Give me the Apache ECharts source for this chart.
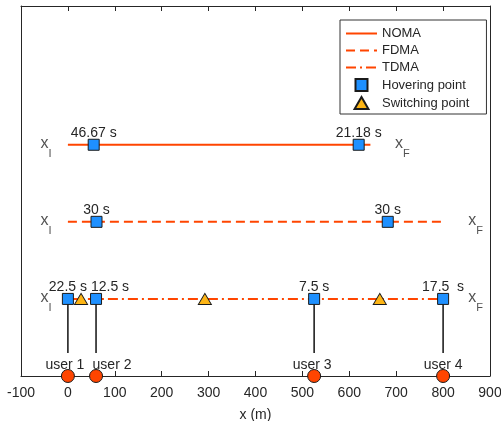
<!DOCTYPE html>
<html><head><meta charset="utf-8">
<script src="https://cdn.jsdelivr.net/npm/echarts@6/dist/echarts.min.js"></script>
<style>html,body{margin:0;padding:0;background:#fff}#c{width:501px;height:421px}</style>
</head><body><div id="c"></div>
<script>
// ---- data ----
const xTickMin = -100, xTickMax = 900, xTickStep = 100;
const schemes = ['NOMA', 'FDMA', 'TDMA'];
const schemeLevel = [3, 2, 1];
const schemeStart = [0, 0, 0];
const schemeEnd = [645, 800, 800];
const nomaHoverX = [55, 620];
const nomaHoverTime = ['46.67 s', '21.18 s'];
const fdmaHoverX = [61, 682];
const fdmaHoverTime = ['30 s', '30 s'];
const tdmaHoverX = [0, 60, 525, 800];
const tdmaHoverTime = ['22.5 s', '12.5 s', '7.5 s', '17.5  s'];
const tdmaSwitchX = [28, 292, 665];
const userX = [0, 60, 525, 800];
const userNames = ['user 1', 'user 2', 'user 3', 'user 4'];
const userLevel = 0;
const userLinkBottom = 0.3;
const xIPos = [-50, -50, -50];
const xFPos = [706, 862, 862];

// ---- style ----
const FONT = 'Liberation Sans, Arial, Helvetica, sans-serif';
const LINE = '#FF4500';
const INK = '#262626';
const dashTypes = ['solid', [9, 5], [10, 4, 2, 4]];
const hoverLabelShift = { 'TDMA-1': [14, 0] };
const userLabelShift = [[-3, 0], [16, 0], [-2, 0], [0, 0]];

const series = [];
schemes.forEach((s, i) => {
  series.push({
    type: 'line', name: s, symbol: 'none', z: 2, silent: true,
    data: [[schemeStart[i], schemeLevel[i]], [schemeEnd[i], schemeLevel[i]]],
    lineStyle: { color: LINE, width: 2, type: dashTypes[i] },
    itemStyle: { color: LINE }
  });
});
userX.forEach((x) => {
  series.push({
    type: 'line', name: 'link', symbol: 'none', z: 1, silent: true,
    data: [[x, userLinkBottom], [x, schemeLevel[2]]],
    lineStyle: { color: '#111', width: 1.5 }
  });
});
const hoverSets = [[nomaHoverX, nomaHoverTime, 0], [fdmaHoverX, fdmaHoverTime, 1], [tdmaHoverX, tdmaHoverTime, 2]];
const hoverData = [];
hoverSets.forEach(([xs, ts, si]) => {
  xs.forEach((x, k) => {
    const shift = hoverLabelShift[schemes[si] + '-' + k] || [0, 0];
    hoverData.push({ value: [x, schemeLevel[si]], label: { formatter: ts[k], offset: shift } });
  });
});
series.push({
  type: 'scatter', name: 'Hovering point', symbol: 'rect', symbolSize: 11, z: 5,
  data: hoverData,
  itemStyle: { color: '#1E90FF', borderColor: '#1a1a1a', borderWidth: 1, opacity: 1 },
  label: { show: true, position: 'top', distance: -1, color: INK, fontSize: 14, fontFamily: FONT }
});
series.push({
  type: 'scatter', name: 'Switching point', symbol: 'triangle', symbolSize: [13, 11], z: 5,
  data: tdmaSwitchX.map(x => [x, schemeLevel[2]]),
  itemStyle: { color: '#FDB515', borderColor: '#1a1a1a', borderWidth: 1, opacity: 1 }
});
series.push({
  type: 'scatter', name: 'users', symbol: 'circle', symbolSize: 13, z: 5,
  data: userX.map((x, k) => ({ value: [x, userLevel], label: { formatter: userNames[k], offset: userLabelShift[k] } })),
  itemStyle: { color: LINE, borderColor: '#1a1a1a', borderWidth: 1, opacity: 1 },
  label: { show: true, position: 'top', distance: -3, color: INK, fontSize: 14, fontFamily: FONT }
});
// x_I / x_F annotations
const annMain = [], annSub = [];
schemes.forEach((s, i) => {
  annMain.push({ value: [xIPos[i], schemeLevel[i]], label: { formatter: 'x' } });
  annMain.push({ value: [xFPos[i], schemeLevel[i]], label: { formatter: 'x' } });
  annSub.push({ value: [xIPos[i], schemeLevel[i]], label: { formatter: 'I' } });
  annSub.push({ value: [xFPos[i], schemeLevel[i]], label: { formatter: 'F' } });
});
series.push({
  type: 'scatter', name: 'annx', symbolSize: 1, silent: true, z: 6,
  itemStyle: { color: 'rgba(0,0,0,0)' }, data: annMain,
  label: { show: true, position: 'inside', color: INK, fontSize: 16, fontFamily: FONT, offset: [0, -1] }
});
series.push({
  type: 'scatter', name: 'anns', symbolSize: 1, silent: true, z: 6, xAxisIndex: 1, yAxisIndex: 1,
  itemStyle: { color: 'rgba(0,0,0,0)' }, data: annSub,
  label: { show: true, position: 'inside', align: 'left', color: INK, fontSize: 11, fontFamily: FONT, offset: [4, 9] }
});

const axisLineStyle = { show: true, onZero: false, lineStyle: { color: INK, width: 1 } };
const tickStyle = { show: true, inside: true, length: 5, lineStyle: { color: INK, width: 1 } };
const option = {
  animation: false,
  backgroundColor: '#fff',
  grid: { left: 21, right: 11, top: 6, bottom: 45, containLabel: false, outerBoundsMode: 'none' },
  xAxis: [
    { type: 'value', position: 'bottom', min: xTickMin, max: xTickMax, interval: xTickStep,
      axisLine: axisLineStyle, axisTick: tickStyle,
      axisLabel: { color: INK, fontSize: 14, fontFamily: FONT, margin: 10 },
      splitLine: { show: false },
      name: 'x (m)', nameLocation: 'middle', nameGap: 32,
      nameTextStyle: { color: INK, fontSize: 14, fontFamily: FONT } },
    { type: 'value', position: 'top', min: xTickMin, max: xTickMax, interval: xTickStep,
      axisLine: axisLineStyle, axisTick: tickStyle,
      axisLabel: { show: false }, splitLine: { show: false } }
  ],
  yAxis: [
    { type: 'value', position: 'left', min: 0, max: 4.8, axisLine: axisLineStyle,
      axisTick: { show: false }, axisLabel: { show: false }, splitLine: { show: false } },
    { type: 'value', position: 'right', min: 0, max: 4.8, axisLine: axisLineStyle,
      axisTick: { show: false }, axisLabel: { show: false }, splitLine: { show: false } }
  ],
  legend: {
    data: [
      { name: 'NOMA', itemStyle: { opacity: 0 } },
      { name: 'FDMA', itemStyle: { opacity: 0 } },
      { name: 'TDMA', itemStyle: { opacity: 0 } },
      { name: 'Hovering point', icon: 'path://M0,0H10V10H0Z' },
      { name: 'Switching point', icon: 'path://M6,0L12,10.4H0Z' }
    ],
    orient: 'vertical', left: 340, top: 20, padding: [7, 17, 4, 5],
    itemWidth: 31, itemHeight: 12, itemGap: 4, symbolKeepAspect: true,
    backgroundColor: '#fff', borderColor: '#333', borderWidth: 1,
    textStyle: { color: INK, fontSize: 13, fontFamily: FONT },
    selectedMode: false
  },
  series: series
};
const chart = echarts.init(document.getElementById('c'), null, { renderer: 'canvas' });
chart.setOption(option);
</script></body></html>
